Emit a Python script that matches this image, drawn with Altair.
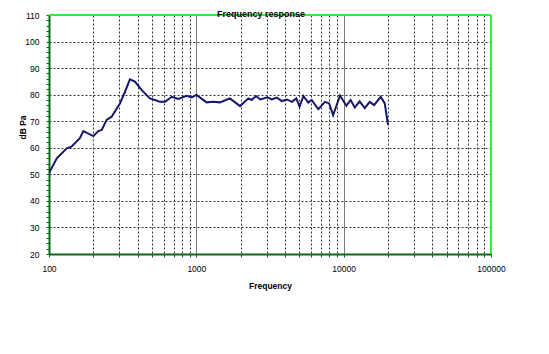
import altair as alt
import pandas as pd

# ---- data ----
freq_hz = [100, 113, 132, 142, 162, 171, 200, 216, 228, 246,
           266, 303, 328, 354, 383, 426, 484, 524, 566, 613,
           681, 756, 860, 930, 1003, 1174, 1300, 1445, 1690, 1979,
           2255, 2376, 2541, 2720, 3035, 3250, 3519, 3810, 4120, 4460,
           4770, 5020, 5330, 5750, 6060, 6730, 7460, 7970, 8480, 9450,
           10430, 11150, 11900, 12830, 13900, 15030, 16090, 17850, 19000, 20000]
level_db = [50.5, 56, 59.8, 60.4, 63.6, 66.3, 64.4, 66.3, 66.7, 70.5,
            71.7, 76.7, 81.1, 85.8, 84.9, 81.7, 78.6, 78, 77.3, 77.3,
            79.2, 78.4, 79.6, 79, 79.9, 77.1, 77.3, 77.1, 78.6, 75.7,
            78.6, 78, 79.5, 78.2, 79, 78.2, 78.9, 77.6, 78.2, 77.3,
            78.6, 75.5, 79.5, 77, 78, 74.5, 77.3, 76.7, 72.3, 79.7,
            75.8, 78, 75.2, 77.5, 74.9, 77.3, 76.1, 79.2, 76.7, 68.6]

x_grid = [100, 200, 300, 400, 500, 600, 700, 800, 900,
          1000, 2000, 3000, 4000, 5000, 6000, 7000, 8000, 9000,
          10000, 20000, 30000, 40000, 50000, 60000, 70000, 80000, 90000, 100000]
x_labels = [100, 1000, 10000, 100000]
y_ticks = list(range(20, 112, 2))
y_domain = [20, 110]
x_domain = [100, 100000]

title_text = "Frequency response"
x_title = "Frequency"
y_title = "dB Pa"

# ---- styling ----
W, H = 442, 239
FONT = "Liberation Sans"
DARK_GREEN = "#0b6a12"
BRIGHT_GREEN = "#33ee33"
LINE_COLOR = "#16166a"

df = pd.DataFrame({"freq": freq_hz, "db": level_db})
one = pd.DataFrame({"t": [title_text]})

label_test = " || ".join(f"datum.value == {v}" for v in x_labels)

x_axis = alt.Axis(
    values=x_grid,
    labelExpr=f"({label_test}) ? format(datum.value, 'd') : ''",
    labelFlush=False, labelOverlap=False,
    labelFont=FONT, labelFontSize=8.5, labelColor="black", labelPadding=7,
    tickSize=3, tickColor=DARK_GREEN, tickWidth=1,
    domainColor=DARK_GREEN, domainWidth=2,
    grid=True,
    gridColor={"condition": {"test": "datum.value == 1000 || datum.value == 10000", "value": "#7a7a7a"}, "value": "#333333"},
    gridDash={"condition": {"test": "datum.value == 1000 || datum.value == 10000", "value": []}, "value": [2, 2]},
    gridWidth=1,
    title=x_title, titleFont=FONT, titleFontSize=8.5, titleFontWeight="bold", titleColor="black",
    titleX=W / 2, titleY=34, titleBaseline="alphabetic", titleAlign="center",
)

y_axis = alt.Axis(
    values=y_ticks,
    labelExpr="datum.value % 10 == 0 ? datum.value : ''",
    labelOverlap=False, labelFlush=False,
    labelFont=FONT, labelFontSize=8.5, labelColor="black", labelPadding=7,
    tickSize=3, tickColor=DARK_GREEN, tickWidth=1,
    domainColor=DARK_GREEN, domainWidth=2,
    grid=True, gridColor="#333333", gridDash=[2, 2], gridWidth=1,
    gridOpacity={"condition": {"test": "datum.value % 10 == 0", "value": 1}, "value": 0},
    title=y_title, titleFont=FONT, titleFontSize=8.5, titleFontWeight="bold", titleColor="black",
    titleX=-27, titleY=112, titleBaseline="middle", titleAlign="center", titleAngle=270,
)

line = alt.Chart(df).mark_line(color=LINE_COLOR, strokeWidth=2, clip=True).encode(
    x=alt.X("freq:Q", scale=alt.Scale(type="log", domain=x_domain, nice=False), axis=x_axis),
    y=alt.Y("db:Q", scale=alt.Scale(domain=y_domain, nice=False, zero=False), axis=y_axis),
)

top_border = alt.Chart(one).mark_rule(color=BRIGHT_GREEN, strokeWidth=2).encode(
    x=alt.value(0), x2=alt.value(W), y=alt.value(0)
)
right_border = alt.Chart(one).mark_rule(color=BRIGHT_GREEN, strokeWidth=2).encode(
    x=alt.value(W), y=alt.value(0), y2=alt.value(H)
)

title = alt.Chart(one).mark_text(
    font=FONT, fontSize=9, fontWeight="bold", color="black", baseline="alphabetic", align="center"
).encode(text="t:N", x=alt.value(212), y=alt.value(1.5))

chart = alt.layer(line, top_border, right_border, title).properties(
    width=W, height=H,
    autosize=alt.AutoSizeParams(type="none"),
    padding={"left": 41, "top": 7, "right": 50, "bottom": 92},
    background="white",
).configure_view(stroke=None)

chart.save("out.html", embed_options={"renderer": "svg", "actions": False})
